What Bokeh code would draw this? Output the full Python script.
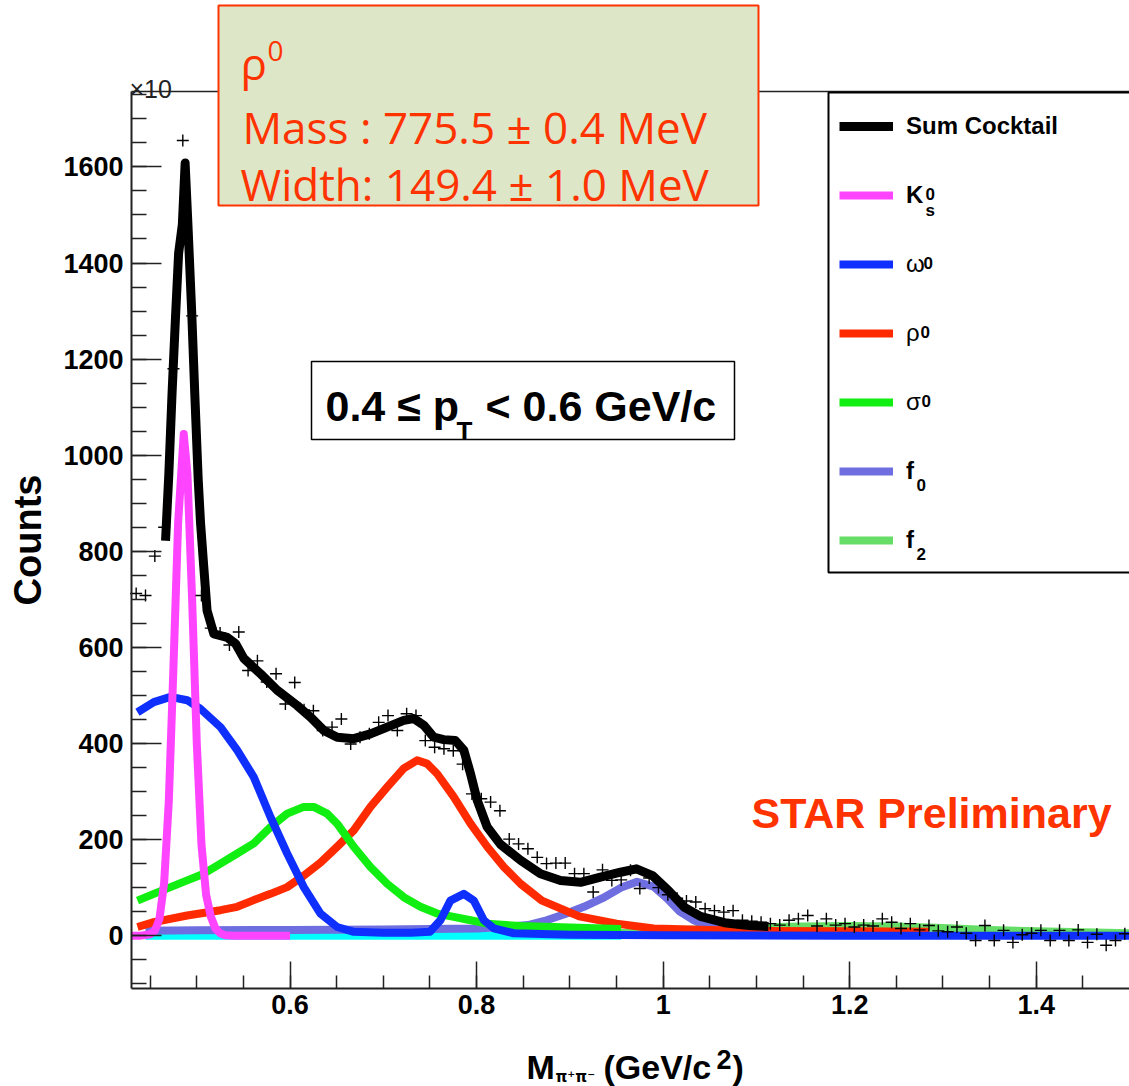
from bokeh.plotting import figure
from bokeh.models import (Label, Legend, LegendItem, BoxAnnotation, LinearAxis,
                          SingleIntervalTicker, FixedTicker, CustomJSTickFormatter)
from bokeh.embed import file_html
from bokeh.resources import INLINE

# ---------------- data ----------------
# measured histogram (crosses)
data_x = [0.435, 0.445, 0.455, 0.465, 0.475, 0.485, 0.495, 0.505, 0.515, 0.525,
          0.535, 0.545, 0.555, 0.565, 0.575, 0.585, 0.595, 0.605, 0.615, 0.625,
          0.635, 0.645, 0.655, 0.665, 0.675, 0.685, 0.695, 0.705, 0.715, 0.725,
          0.735, 0.745, 0.755, 0.765, 0.775, 0.785, 0.795, 0.805, 0.815, 0.825,
          0.835, 0.845, 0.855, 0.865, 0.875, 0.885, 0.895, 0.905, 0.915, 0.925,
          0.935, 0.945, 0.955, 0.965, 0.975, 0.985, 0.995, 1.005, 1.015, 1.025,
          1.035, 1.045, 1.055, 1.065, 1.075, 1.085, 1.095, 1.105, 1.115, 1.125,
          1.135, 1.145, 1.155, 1.165, 1.175, 1.185, 1.195, 1.205, 1.215, 1.225,
          1.235, 1.245, 1.255, 1.265, 1.275, 1.285, 1.295, 1.305, 1.315, 1.325,
          1.335, 1.345, 1.355, 1.365, 1.375, 1.385, 1.395, 1.405, 1.415, 1.425,
          1.435, 1.445, 1.455, 1.465, 1.475, 1.485, 1.495]
data_y = [712, 708, 790, 850, 1180, 1655, 1290, 708, 640, 630,
          605, 632, 552, 572, 528, 545, 482, 527, 470, 468,
          427, 434, 451, 399, 413, 420, 444, 458, 427, 462,
          458, 406, 392, 389, 385, 357, 295, 285, 278, 260,
          201, 191, 181, 163, 150, 151, 151, 129, 129, 91,
          137, 115, 116, 136, 98, 120, 100, 85, 78, 72,
          70, 56, 52, 49, 52, 32, 30, 28, 25, 22,
          32, 35, 42, 20, 35, 22, 25, 18, 22, 20,
          35, 28, 15, 25, 12, 21, 10, 8, 18, 5,
          -10, 21, -10, 11, -14, 2, 5, 11, -10, 11,
          -10, 12, -14, 3, -20, -10, 4]

# Sum cocktail
sum_x = [0.4665, 0.470, 0.4735, 0.477, 0.4805, 0.4845, 0.4875, 0.4905, 0.4945, 0.498,
         0.5015, 0.504, 0.5075, 0.511, 0.5183, 0.5325, 0.5415, 0.5504, 0.5683, 0.5861,
         0.6076, 0.6218, 0.6362, 0.6505, 0.6683, 0.6862, 0.7041, 0.7219, 0.7326, 0.7433,
         0.754, 0.7648, 0.7773, 0.7863, 0.7935, 0.8006, 0.8114, 0.8256, 0.8471, 0.8685,
         0.89, 0.9114, 0.9328, 0.9543, 0.9714, 0.9886, 1.0057, 1.0229, 1.04, 1.0657,
         1.0916, 1.1129]
sum_y = [822, 960, 1130, 1280, 1420, 1480, 1608, 1480, 1300, 1120,
         950, 860, 767, 677, 628, 621, 608, 577, 545, 511,
         479, 455, 427, 413, 410, 420, 434, 448, 452, 438,
         413, 408, 406, 386, 337, 282, 226, 190, 157, 129,
         115, 111, 122, 132, 139, 125, 94, 59, 40, 27,
         21, 19]

# K0s
k_x = [0.43, 0.44, 0.45, 0.455, 0.46, 0.465, 0.47, 0.475, 0.48, 0.486,
       0.49, 0.495, 0.50, 0.505, 0.51, 0.515, 0.52, 0.525, 0.53, 0.54, 0.60]
k_y = [0, 0, 3, 10, 35, 110, 280, 560, 860, 1044,
       960, 700, 400, 190, 85, 40, 15, 5, 1, 0, 0]

# omega
om_x = [0.4364, 0.4539, 0.4718, 0.4897, 0.504, 0.5254, 0.5433, 0.5611, 0.579, 0.5969,
        0.6147, 0.6326, 0.6505, 0.6683, 0.70, 0.73, 0.75, 0.7612, 0.7719, 0.7863,
        0.797, 0.8078, 0.8185, 0.84, 0.90, 1.0, 1.2, 1.5]
om_y = [465, 486, 497, 490, 472, 434, 386, 330, 247, 171,
        101, 46, 18, 8, 6, 6, 8, 32, 73, 87,
        73, 32, 15, 5, 2, 1, 0, 0]

# rho
rho_x = [0.4364, 0.4539, 0.4897, 0.5254, 0.5433, 0.5611, 0.579, 0.5969, 0.6147, 0.6326,
         0.6505, 0.6683, 0.6862, 0.7041, 0.7219, 0.7362, 0.7469, 0.7577, 0.7755, 0.7935,
         0.8114, 0.8292, 0.8471, 0.87, 0.91, 0.95, 0.99, 1.05, 1.1, 1.2, 1.285]
rho_y = [18, 28, 42, 53, 60, 74, 87, 101, 125, 152,
         185, 219, 268, 309, 348, 365, 358, 337, 289, 233,
         185, 143, 108, 73, 40, 25, 15, 12, 10, 9, 8]

# sigma
sig_x = [0.4364, 0.4539, 0.4897, 0.5075, 0.5254, 0.5433, 0.5611, 0.579, 0.5969, 0.6147,
         0.6254, 0.6397, 0.6505, 0.6683, 0.6862, 0.7041, 0.7219, 0.7398, 0.7577, 0.7755,
         0.7935, 0.8114, 0.8471, 0.90, 0.955]
sig_y = [73, 87, 115, 129, 150, 171, 192, 226, 254, 268,
         268, 254, 233, 185, 143, 108, 80, 60, 46, 39,
         32, 25, 20, 17, 14]

# f0
f0_x = [0.445, 0.50, 0.60, 0.70, 0.80, 0.83, 0.855, 0.875, 0.895, 0.915,
        0.935, 0.955, 0.972, 0.99, 1.004, 1.018, 1.033, 1.045, 1.06, 1.08, 1.10]
f0_y = [10, 11, 12, 13, 15, 18, 22, 32, 45, 60,
        78, 100, 112, 102, 78, 50, 32, 22, 16, 11, 9]

# f2
f2_x = [0.95, 1.0, 1.05, 1.1, 1.15, 1.2, 1.25, 1.3, 1.35, 1.4, 1.45, 1.5]
f2_y = [5, 10, 14, 17, 19, 20, 19, 16, 12, 9, 7, 5]

# other (cyan) background component
cy_x = [0.445, 0.955]
cy_y = [0, 0]

legend_labels = ["Sum Cocktail", "K", "ω", "ρ", "σ", "f", "f"]

# ---------------- geometry ----------------
W, H = 1129, 1086
XA0, XA1 = 0.43, 1.5          # visible axis extent (x)
YA0, YA1 = -110, 1757         # visible axis extent (y)
FL, FT, FW, FH = 131, 91, 998, 897   # pixel box of the drawn axes


def sx(px):
    return XA0 + (px - FL) * (XA1 - XA0) / FW


def sy(py):
    return YA0 + (FT + FH - py) * (YA1 - YA0) / FH


p = figure(width=W, height=H, x_range=(sx(0), sx(W)), y_range=(sy(H), sy(0)),
           output_backend="svg", toolbar_location=None, min_border=0)
p.grid.visible = False
p.outline_line_color = None
p.background_fill_color = "white"
p.border_fill_color = "white"

FONT = "Liberation Sans"
xa = p.xaxis[0]
xa.fixed_location = YA0
xa.bounds = (XA0, XA1)
xa.ticker = SingleIntervalTicker(interval=0.2, num_minor_ticks=4)
xa.formatter = CustomJSTickFormatter(code="return String(Math.round(tick*10)/10);")
xa.major_tick_in = 27
xa.major_tick_out = 0
xa.minor_tick_in = 13
xa.minor_tick_out = 0
xa.major_label_standoff = 6
ya = p.yaxis[0]
ya.fixed_location = XA0
ya.bounds = (YA0, YA1)
ya.ticker = SingleIntervalTicker(interval=200, num_minor_ticks=4)
ya.major_tick_in = 30
ya.major_tick_out = 0
ya.minor_tick_in = 15
ya.minor_tick_out = 0
ya.major_label_standoff = 8
ya.axis_label = "Counts"
ya.axis_label_text_font = FONT
ya.axis_label_text_font_style = "bold"
ya.axis_label_text_font_size = "38px"
ya.axis_label_text_color = "black"
ya.axis_label_standoff = 11
for ax in (xa, ya):
    ax.axis_line_width = 2
    ax.axis_line_color = "#222222"
    ax.major_tick_line_width = 1.5
    ax.minor_tick_line_width = 1.5
    ax.major_tick_line_color = "#222222"
    ax.minor_tick_line_color = "#222222"
    ax.major_label_text_font = FONT
    ax.major_label_text_font_style = "bold"
    ax.major_label_text_font_size = "27px"
    ax.major_label_text_color = "black"

# top frame line
top_ax = LinearAxis(fixed_location=YA1, bounds=(XA0, XA1), ticker=FixedTicker(ticks=[]),
                    axis_line_width=1.5, axis_line_color="#222222",
                    major_tick_in=0, major_tick_out=0, minor_tick_in=0, minor_tick_out=0)
p.add_layout(top_ax, "above")

# ---------------- curves ----------------
kw = dict(line_join="round", line_cap="butt")
r_cy = p.line(cy_x, cy_y, line_color="#00ffff", line_width=8, **kw)
r_f2 = p.line(f2_x, f2_y, line_color="#66dd66", line_width=8, **kw)
r_f0 = p.line(f0_x, f0_y, line_color="#6e6ee0", line_width=8, **kw)
r_rho = p.line(rho_x, rho_y, line_color="#ff2a00", line_width=8, **kw)
r_sig = p.line(sig_x, sig_y, line_color="#11ee11", line_width=8, **kw)
r_om = p.line(om_x, om_y, line_color="#0f2fff", line_width=8, **kw)
r_k = p.line(k_x, k_y, line_color="#ff44ff", line_width=8, **kw)
r_sum = p.line(sum_x, sum_y, line_color="black", line_width=9, **kw)
p.scatter(data_x, data_y, marker="cross", size=12, line_color="black", line_width=1.4)


def txt(px, py, s, size, color="black", font=FONT, style="bold", align="left"):
    p.add_layout(Label(x=sx(px), y=sy(py), text=s, text_font=font,
                       text_font_size=f"{size}px", text_font_style=style,
                       text_color=color, text_align=align, text_baseline="alphabetic"))


def box(l, t, r, b, fill, line, lw):
    p.add_layout(BoxAnnotation(left=sx(l), right=sx(r), top=sy(t), bottom=sy(b),
                               fill_color=fill, fill_alpha=1.0, line_color=line,
                               line_alpha=1.0, line_width=lw))


# ---------------- legend ----------------
box(828, 92, 1170, 572, "white", "black", 2)

renders = [r_sum, r_k, r_om, r_rho, r_sig, r_f0, r_f2]
ROW, SP, TOP = 68, 1, 91.5


def mk_legend(idx, style):
    n = len(idx)
    top = TOP + idx[0] * (ROW + SP)
    h = n * ROW + (n - 1) * SP
    items = [LegendItem(label=legend_labels[i], renderers=[renders[i]]) for i in idx]
    lg = Legend(items=items, location=(839, H - (top + h)),
                orientation="vertical", glyph_width=54, glyph_height=ROW,
                label_height=ROW, spacing=SP, padding=0, margin=0,
                label_standoff=13, label_text_font=FONT, label_text_font_size="24px",
                label_text_font_style=style, label_text_color="black",
                border_line_alpha=0, background_fill_alpha=0)
    p.add_layout(lg, "center")


mk_legend([0, 1], "bold")
mk_legend([2, 3, 4], "normal")
mk_legend([5, 6], "bold")


def row(i):
    return TOP + i * (ROW + SP) + ROW / 2


txt(925, row(1) - 1, "0", 17)
txt(925, row(1) + 15, "s", 17)
txt(923, row(2) - 1, "0", 17)
txt(920, row(3) - 1, "0", 17)
txt(921, row(4) - 1, "0", 17)
txt(916, row(5) + 14, "0", 17)
txt(916, row(6) + 14, "2", 17)

# ---------------- boxes & texts ----------------
box(311, 361, 734, 439, "white", "black", 1.5)
txt(325, 405, "0.4 ≤ p", 43)
txt(456, 430, "T", 26)
txt(485, 405, "< 0.6 GeV/c", 43)

txt(751, 812, "STAR Preliminary", 43, color="#ff3300")

txt(129, 88, "×10", 25, style="normal", color="#222222")

box(218, 5, 758, 205, "#dee6c8", "#ff3300", 2)
RED = "#ff3300"
txt(240, 62, "ρ", 44, color=RED, font="Open Sans", style="normal")
txt(267, 50, "0", 28, color=RED, font="Open Sans", style="normal")
txt(242, 126, "Mass : 775.5 ± 0.4 MeV", 44, color=RED, font="Open Sans", style="normal")
txt(240, 183, "Width: 149.4 ± 1.0 MeV", 44, color=RED, font="Open Sans", style="normal")

# x-axis title M_{pi+pi-} (GeV/c^2)
txt(526, 1066, "M", 34)
txt(555, 1076, "π⁺π⁻", 15, font="DejaVu Sans")
txt(603, 1066, "(GeV/c", 34)
txt(716, 1059, "2", 27)
txt(732, 1066, ")", 34)

open("out.html", "w").write(file_html(p, INLINE))
